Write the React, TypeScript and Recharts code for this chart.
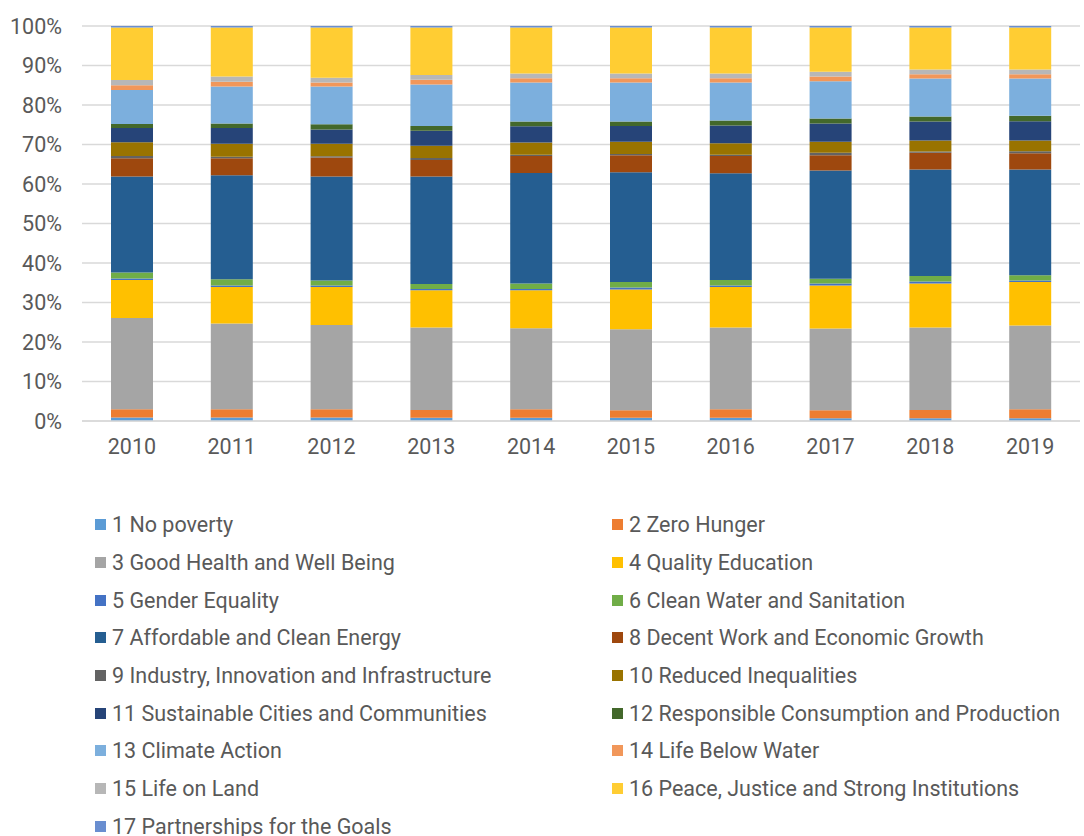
import React from 'react';
import { BarChart, Bar, XAxis, YAxis, CartesianGrid, Legend } from 'recharts';

const years = ['2010', '2011', '2012', '2013', '2014', '2015', '2016', '2017', '2018', '2019'];

const seriesNames = [
  '1 No poverty',
  '2 Zero Hunger',
  '3 Good Health and Well Being',
  '4 Quality Education',
  '5 Gender Equality',
  '6 Clean Water and Sanitation',
  '7 Affordable and Clean Energy',
  '8 Decent Work and Economic Growth',
  '9 Industry, Innovation and Infrastructure',
  '10 Reduced Inequalities',
  '11 Sustainable Cities and Communities',
  '12 Responsible Consumption and Production',
  '13 Climate Action',
  '14 Life Below Water',
  '15 Life on Land',
  '16 Peace, Justice and Strong Institutions',
  '17 Partnerships for the Goals',
];

const colors = [
  '#5B9BD5', '#ED7D31', '#A5A5A5', '#FFC000', '#4472C4', '#70AD47', '#255E91', '#9E480E',
  '#636363', '#997300', '#264478', '#43682B', '#7CAFDD', '#F1975A', '#B7B7B7', '#FFCD33', '#698ED0',
];

const s1 = [0.9, 0.9, 0.9, 0.8, 0.8, 0.8, 0.8, 0.7, 0.7, 0.7];
const s2 = [2.1, 2.1, 2.1, 2.0, 2.2, 1.9, 2.2, 2.0, 2.1, 2.3];
const s3 = [23.1, 21.7, 21.3, 20.9, 20.5, 20.5, 20.7, 20.7, 20.9, 21.2];
const s4 = [9.6, 9.2, 9.6, 9.4, 9.6, 10.1, 10.2, 10.9, 11.1, 11.0];
const s5 = [0.4, 0.4, 0.4, 0.3, 0.3, 0.5, 0.4, 0.5, 0.5, 0.4];
const s6 = [1.5, 1.6, 1.3, 1.3, 1.4, 1.4, 1.4, 1.2, 1.4, 1.3];
const s7 = [24.3, 26.3, 26.3, 27.2, 28.0, 27.8, 27.0, 27.4, 27.0, 26.8];
const s8 = [4.6, 4.3, 4.8, 4.2, 4.3, 4.3, 4.4, 3.9, 4.2, 4.1];
const s9 = [0.6, 0.4, 0.3, 0.5, 0.3, 0.3, 0.3, 0.6, 0.3, 0.5];
const s10 = [3.5, 3.3, 3.2, 3.1, 3.1, 3.1, 2.9, 2.8, 2.8, 2.7];
const s11 = [3.6, 4.0, 3.6, 3.8, 4.1, 4.0, 4.5, 4.6, 4.8, 4.9];
const s12 = [1.0, 1.1, 1.3, 1.2, 1.2, 1.1, 1.3, 1.3, 1.3, 1.4];
const s13 = [8.6, 9.4, 9.6, 10.5, 9.9, 9.9, 9.6, 9.4, 9.6, 9.4];
const s14 = [1.2, 1.2, 1.0, 1.2, 1.1, 1.1, 1.1, 1.2, 1.1, 1.1];
const s15 = [1.3, 1.3, 1.2, 1.2, 1.2, 1.2, 1.2, 1.2, 1.2, 1.2];
const s16 = [13.3, 12.4, 12.7, 12.0, 11.6, 11.6, 11.6, 11.2, 10.6, 10.6];
const s17 = [0.4, 0.4, 0.4, 0.4, 0.4, 0.4, 0.4, 0.4, 0.4, 0.4];

const seriesValues = [s1, s2, s3, s4, s5, s6, s7, s8, s9, s10, s11, s12, s13, s14, s15, s16, s17];

const yTicks = [0, 0.1, 0.2, 0.3, 0.4, 0.5, 0.6, 0.7, 0.8, 0.9, 1];

const data = years.map((year, i) => {
  const row: Record<string, string | number> = { year };
  seriesValues.forEach((vals, k) => {
    row['s' + (k + 1)] = vals[i];
  });
  return row;
});

const FONT = 'Roboto, "Noto Sans", sans-serif';
const TEXT = '#595959';

const LegendContent = () => {
  return (
    <div
      style={{
        display: 'grid',
        gridTemplateColumns: '517px 472px',
        gridAutoRows: '37.7px',
        paddingLeft: 95,
        fontFamily: FONT,
        fontSize: 21.5,
        color: TEXT,
      }}
    >
      {seriesNames.map((name, i) => (
        <div key={name} style={{ display: 'flex', alignItems: 'center', whiteSpace: 'nowrap' }}>
          <span
            style={{
              display: 'inline-block',
              width: 11,
              height: 11,
              background: colors[i],
              marginRight: 6,
              flex: 'none',
            }}
          />
          <span>{name}</span>
        </div>
      ))}
    </div>
  );
};

export default function App() {
  return (
    <div style={{ position: 'absolute', left: 0, top: 0, width: 1084, height: 836, background: '#fff' }}>
      <BarChart
        width={1084}
        height={836}
        data={data}
        stackOffset="expand"
        margin={{ top: 26, right: 4, bottom: 385, left: 0 }}
        barSize={42}
      >
        <CartesianGrid vertical={false} stroke="#d9d9d9" strokeWidth={1.3} />
        <XAxis
          dataKey="year"
          height={30}
          axisLine={{ stroke: '#d9d9d9', strokeWidth: 1.3 }}
          tickLine={false}
          tickSize={6}
          tickMargin={12}
          tick={{ fill: TEXT, fontSize: 21.5, fontFamily: FONT }}
        />
        <YAxis
          width={82}
          domain={[0, 1]}
          ticks={yTicks}
          axisLine={false}
          tickLine={false}
          tickSize={6}
          tickMargin={14}
          tickFormatter={(v: number) => Math.round(v * 100) + '%'}
          tick={{ fill: TEXT, fontSize: 21.5, fontFamily: FONT }}
        />
        <Legend
          layout="horizontal"
          verticalAlign="middle"
          align="center"
          wrapperStyle={{ top: 506, left: 0, width: 1084 }}
          content={<LegendContent />}
        />
        {seriesNames.map((name, k) => (
          <Bar
            key={name}
            dataKey={'s' + (k + 1)}
            name={name}
            stackId="a"
            fill={colors[k]}
            isAnimationActive={false}
          />
        ))}
      </BarChart>
    </div>
  );
}
